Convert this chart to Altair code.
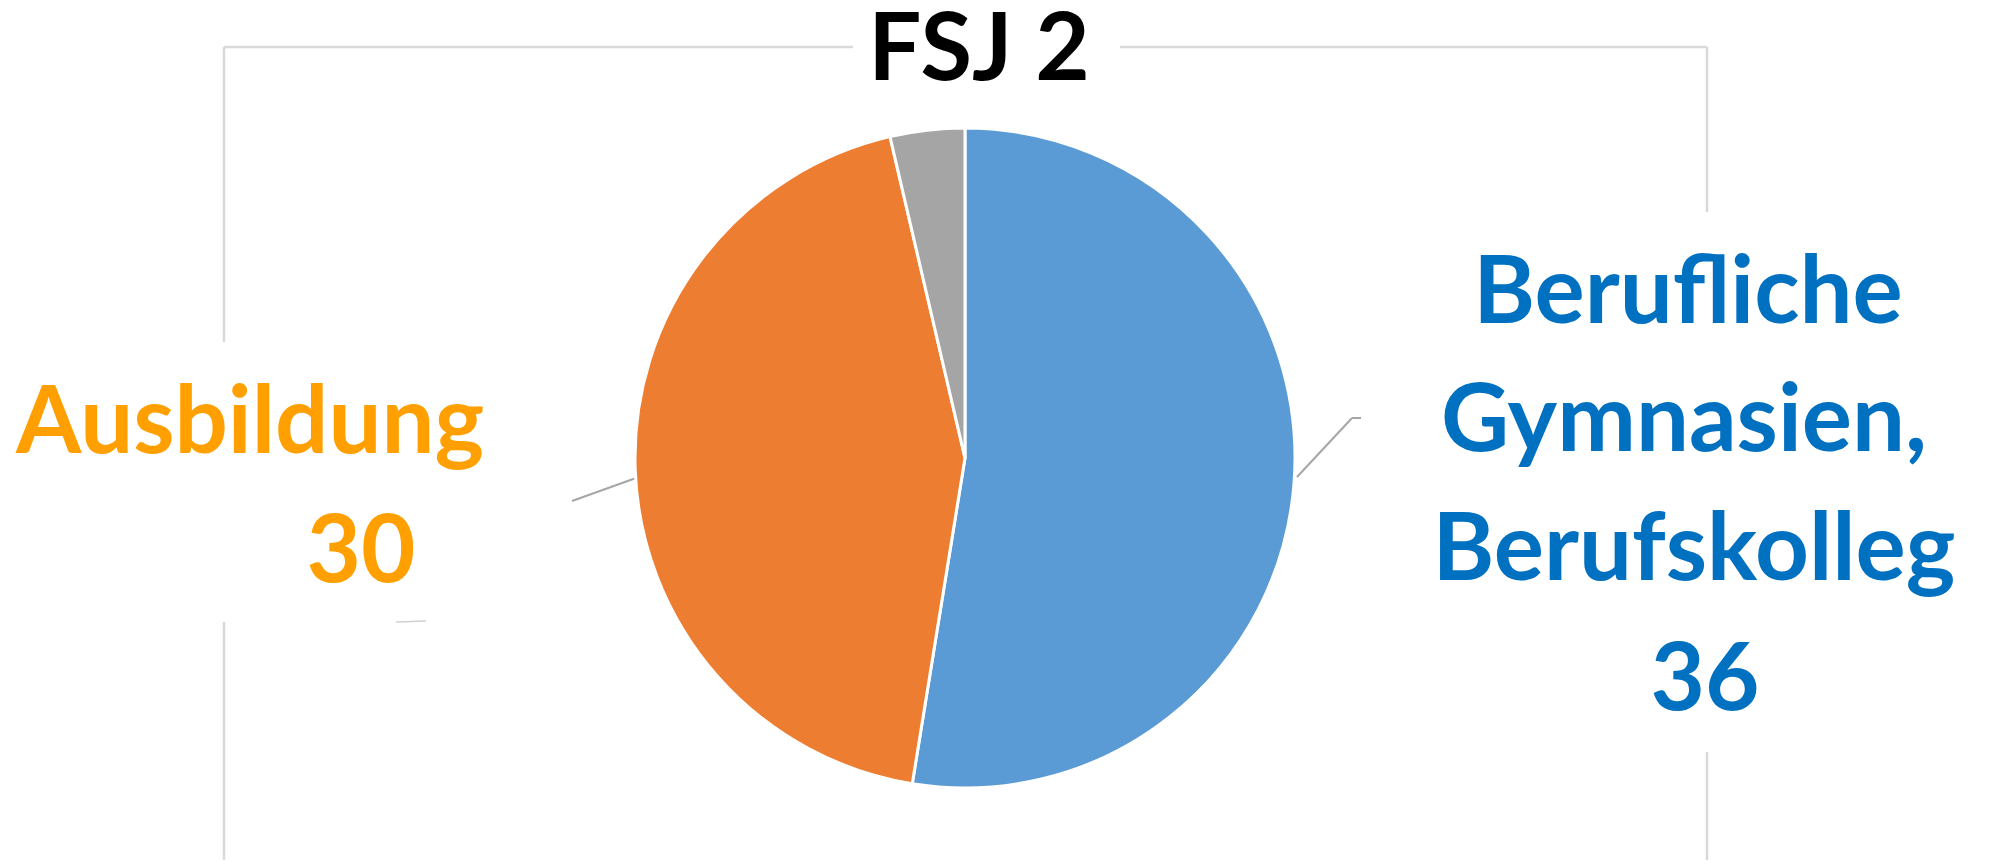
import altair as alt
import pandas as pd

# ---- data ----
categories = ["Berufliche Gymnasien, Berufskolleg", "Ausbildung", "Sonstiges"]
values = [36, 30, 2.5]
slice_colors = ["#5B9BD5", "#ED7D31", "#A5A5A5"]
label_colors = ["#0070C0", "#FFA000", None]
label_lines = [["Berufliche", "Gymnasien,", "Berufskolleg"], ["Ausbildung"], []]
title_text = "FSJ 2"

# ---- layout (pixel positions in chart coordinates; page offset 8px) ----
OFF = 8
W, H = 1979, 852
CX, CY, R = 965 - OFF, 458 - OFF, 330
FONT = "Lato"
FS = 94

pie_df = pd.DataFrame({"category": categories, "value": values, "idx": list(range(len(values)))})

pie = alt.Chart(pie_df).mark_arc(radius=R, stroke="white", strokeWidth=3).encode(
    theta=alt.Theta("value:Q", stack=True),
    color=alt.Color("category:N", scale=alt.Scale(domain=categories, range=slice_colors), legend=None),
    order=alt.Order("idx:Q"),
    x=alt.value(CX),
    y=alt.value(CY),
)

# label line positions (center x, baseline y) in page coordinates
blue_pos = [(1688, 323), (1684, 451), (1694, 580), (1705, 710)]
orange_pos = [(250, 453), (361, 582)]
rows = []
for lines, val, col, pos in [
    (label_lines[0], values[0], label_colors[0], blue_pos),
    (label_lines[1], values[1], label_colors[1], orange_pos),
]:
    texts = lines + [f"{val:g}"]
    for t, (px, py) in zip(texts, pos):
        rows.append({"text": t, "x": px - OFF, "y": py - OFF, "color": col})
rows.append({"text": title_text, "x": 979 - OFF, "y": 80 - OFF, "color": "#000000"})
text_df = pd.DataFrame(rows)

labels = alt.Chart(text_df).mark_text(
    font=FONT, fontWeight="bold", fontSize=FS, align="center", baseline="alphabetic"
).encode(
    x=alt.X("x:Q", scale=None, axis=None),
    y=alt.Y("y:Q", scale=None, axis=None),
    text="text:N",
    color=alt.Color("color:N", scale=None),
)

# chart-area frame pieces (interrupted by title and label boxes)
frame_segments = [
    (224, 47, 853, 47),
    (1120, 47, 1707, 47),
    (224, 47, 224, 342),
    (224, 622, 224, 875),
    (1707, 47, 1707, 212),
    (1707, 752, 1707, 875),
]
frame_df = pd.DataFrame(
    [{"x": a - OFF, "y": b - OFF, "x2": c - OFF, "y2": d - OFF} for a, b, c, d in frame_segments]
)
frame = alt.Chart(frame_df).mark_rule(color="#D9D9D9", strokeWidth=2.5).encode(
    x=alt.X("x:Q", scale=None), y=alt.Y("y:Q", scale=None),
    x2="x2:Q", y2="y2:Q",
)

leader_segments = [
    (636, 478, 572, 501),
    (1297, 477, 1352, 418),
    (1352, 418, 1361, 418),
]
leader_df = pd.DataFrame(
    [{"x": a - OFF, "y": b - OFF, "x2": c - OFF, "y2": d - OFF} for a, b, c, d in leader_segments]
)
leaders = alt.Chart(leader_df).mark_rule(color="#A6A6A6", strokeWidth=2).encode(
    x=alt.X("x:Q", scale=None), y=alt.Y("y:Q", scale=None),
    x2="x2:Q", y2="y2:Q",
)

# faint remnant of a hidden leader line below the orange label
remnant_df = pd.DataFrame([{"x": 396 - OFF, "y": 622 - OFF, "x2": 426 - OFF, "y2": 621 - OFF}])
remnant = alt.Chart(remnant_df).mark_rule(color="#D0D0D0", strokeWidth=1.5).encode(
    x=alt.X("x:Q", scale=None), y=alt.Y("y:Q", scale=None),
    x2="x2:Q", y2="y2:Q",
)

chart = alt.layer(frame, leaders, remnant, pie, labels).properties(
    width=W, height=H, padding=0, autosize=alt.AutoSizeParams(type="none"), background="white"
).configure_view(stroke=None)

chart.save("out.html", embed_options={"renderer": "svg", "actions": False})
